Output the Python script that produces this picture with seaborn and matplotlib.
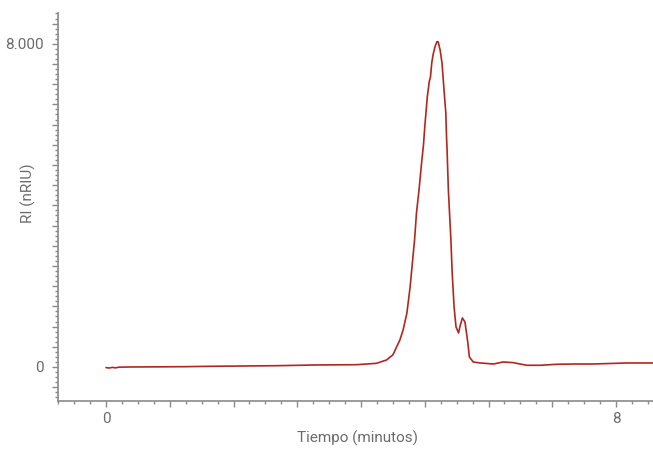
import numpy as np
import pandas as pd
import matplotlib
matplotlib.use("Agg")
import matplotlib.pyplot as plt
from matplotlib.ticker import MultipleLocator, FuncFormatter
import seaborn as sns

# chromatogram trace
tiempo = [0.00, 0.05, 0.10, 0.15, 0.20, 0.38, 1.00, 1.26, 1.63, 2.68, 3.30, 3.93,
          4.24, 4.40, 4.50, 4.61, 4.66, 4.72, 4.77, 4.81, 4.84, 4.87, 4.91, 4.95,
          4.98, 5.00, 5.04, 5.07, 5.09, 5.11, 5.13, 5.16, 5.19, 5.21, 5.24, 5.27,
          5.29, 5.31, 5.33, 5.34, 5.35, 5.37, 5.41, 5.43, 5.46, 5.49, 5.53, 5.55,
          5.59, 5.63, 5.67, 5.70, 5.76, 5.87, 6.08, 6.23, 6.39, 6.60, 6.81, 7.07,
          7.38, 7.64, 8.17, 8.58]
ri = [-15, -25, -10, -22, -5, 0, 5, 8, 17, 32, 50, 57,
      90, 173, 300, 669, 916, 1337, 1981, 2650, 3146, 3815, 4384, 5053,
      5499, 5945, 6688, 7059, 7183, 7530, 7728, 7926, 8050, 8050, 7852, 7530,
      7109, 6688, 6292, 5747, 5375, 4384, 3146, 2328, 1486, 991, 842, 991,
      1214, 1115, 669, 248, 124, 99, 74, 124, 107, 42, 42, 67,
      74, 74, 99, 99]

x_label = "Tiempo (minutos)"
y_label = "RI (nRIU)"

sns.set_style("ticks")
plt.rcParams['font.family'] = ['Roboto', 'DejaVu Sans']

text_color = "#6b6b6b"
axis_color = "#8a8a8a"

df = pd.DataFrame({"t": tiempo, "ri": ri})

fig = plt.figure(figsize=(6.53, 4.49), dpi=100)
ax = fig.add_axes([58 / 653, 1 - 401 / 449, 1 - 58 / 653, (401 - 13) / 449])
sns.lineplot(data=df, x="t", y="ri", ax=ax, color="#b3261e", linewidth=1.2, sort=False)

ax.set_xlim(-0.753, 8.58)
ax.set_ylim(-842, 8762)

ax.xaxis.set_major_locator(MultipleLocator(1))
ax.xaxis.set_minor_locator(MultipleLocator(0.25))
ax.yaxis.set_major_locator(MultipleLocator(500))
ax.yaxis.set_minor_locator(MultipleLocator(125))
ax.xaxis.set_major_formatter(FuncFormatter(lambda v, p: "%d" % round(v) if round(v, 3) in (0, 8) else ""))
ax.yaxis.set_major_formatter(FuncFormatter(lambda v, p: {0: "0", 8000: "8.000"}.get(int(round(v)), "")))

ax.tick_params(which="major", length=4, width=1, color=axis_color, labelcolor=text_color, labelsize=11)
ax.tick_params(which="minor", length=2, width=1, color=axis_color)
ax.tick_params(axis="x", which="major", pad=4)
ax.tick_params(axis="y", which="major", pad=6)

sns.despine(ax=ax)
for side in ["left", "bottom"]:
    ax.spines[side].set_color(axis_color)
    ax.spines[side].set_linewidth(1.2)

ax.set_xlabel(x_label, color=text_color, fontsize=11, va="center")
ax.set_ylabel(y_label, color=text_color, fontsize=11, va="center")
ax.xaxis.set_label_coords(0.5 * (295 + 420) / 653 / (1 - 58 / 653) - (58 / 653) / (1 - 58 / 653), -37 / 388)
ax.yaxis.set_label_coords(-30 / 595, (401 - 193) / 388)

fig.savefig("out.png", dpi=100)
plt.close(fig)
